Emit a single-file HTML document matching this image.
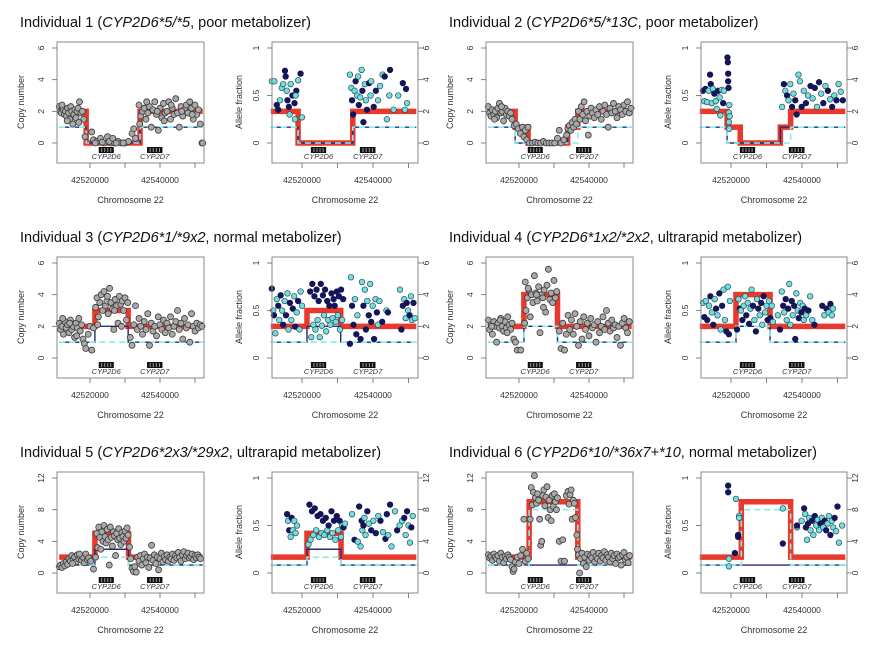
<!DOCTYPE html>
<html><head><meta charset="utf-8">
<style>
html,body{margin:0;padding:0;background:#fff;}
svg{display:block;font-family:"Liberation Sans",sans-serif;}
</style></head>
<body>
<svg id="fig" width="889" height="654" viewBox="0 0 889 654" xmlns="http://www.w3.org/2000/svg"></svg>
<script>
// ---- data (positions in kb relative to chr22:42500000) ----
const titlesPre = ["Individual 1 (","Individual 2 (","Individual 3 (","Individual 4 (","Individual 5 (","Individual 6 ("];
const titlesGeno = ["CYP2D6*5/*5","CYP2D6*5/*13C","CYP2D6*1/*9x2","CYP2D6*1x2/*2x2","CYP2D6*2x3/*29x2","CYP2D6*10/*36x7+*10"];
const titlesPost = [", poor metabolizer)",", poor metabolizer)",", normal metabolizer)",", ultrarapid metabolizer)",", ultrarapid metabolizer)",", normal metabolizer)"];
const cnMax = [6,6,6,6,12,12];
const cnTicks6 = [0,2,4,6];
const cnTicks12 = [0,4,8,12];
const afTicks = [0,0.5,1];
const afTickLabels = ["0","0.5","1"];
const xTicks = [20,30,40,50];
const xTickLabels = {20:"42520000",40:"42540000"};

const redSeg = [
 [[11.2,18.9,2],[18.9,34.3,0],[34.3,52.2,2]],
 [[11.2,18.9,2],[18.9,22.6,1],[22.6,33.9,0],[33.9,36.8,1],[36.8,52.2,2]],
 [[11.2,21.4,2],[21.4,30.9,3],[30.9,52.2,2]],
 [[11.2,21.4,2],[21.4,31,4],[31,52.2,2]],
 [[11.2,21.4,2],[21.4,31,5],[31,52.2,2]],
 [[11.2,22.9,2],[22.9,36.8,9],[36.8,52.2,2]]
];
const navySeg = [
 [[11.2,18.9,1],[18.9,34.3,0],[34.3,52.2,1]],
 [[11.2,18.9,1],[18.9,33.9,0],[33.9,52.2,1]],
 [[11.2,21.4,1],[21.4,30.9,2],[30.9,52.2,1]],
 [[11.2,21.4,1],[21.4,31,2],[31,52.2,1]],
 [[11.2,21.4,1],[21.4,31,3],[31,52.2,1]],
 [[11.2,52.2,1]]
];
const cyanSeg = [
 [[11.2,18.9,1],[18.9,34.3,0],[34.3,52.2,1]],
 [[11.2,18.9,1],[18.9,36.8,0],[36.8,52.2,1]],
 [[11.2,52.2,1]],
 [[11.2,21.4,1],[21.4,31,2],[31,52.2,1]],
 [[11.2,21.4,1],[21.4,31,2],[31,52.2,1]],
 [[11.2,22.9,1],[22.9,36.8,8],[36.8,52.2,1]]
];

const cn1 = [11.2,2.3,11.5,2.0,11.8,1.9,12.1,2.2,12.4,2.1,12.7,1.8,13.0,2.0,13.3,1.7,13.6,2.2,13.9,1.9,14.2,1.5,14.5,2.3,14.8,2.0,15.1,1.2,15.4,1.8,15.7,2.1,16.0,1.6,16.3,2.0,16.6,2.2,17.0,2.6,17.4,1.9,17.8,2.0,18.2,1.5,18.6,0.4,12.0,2.4,13.5,1.4,16.8,1.3,
 20.5,0.7,21,0.2,22,0.1,23,0.3,24,0.0,25,0.4,26,0.0,27,0.0,28,0.1,29,0.0,30,0.0,31,0.1,32,0.6,32.5,0.9,33,0.3,21.5,0,23.5,0.05,25.5,0.1,26.5,0.3,27.5,0,29.5,0,
 34,2.4,34.5,1.7,35,2.0,35.5,2.2,36,1.5,36.5,1.9,37,2.3,37.5,1.0,38,2.1,38.5,2.6,39,1.8,39.5,0.8,40,2.2,40.5,1.6,41,2.5,41.5,1.9,42,2.0,42.5,2.6,43,1.5,43.5,2.2,44,1.8,44.5,2.8,45,1.9,45.5,1.0,46,2.3,46.5,1.7,47,2.1,47.5,2.4,48,1.9,48.5,2.6,49,2.2,49.5,1.5,50,2.4,50.5,1.8,51,2.1,51.5,1.2,52,0,52.2,0,34.2,1.2,36.2,2.6,39.2,2.0,41.2,1.4,43.2,2.4,46.2,2.0,49.2,1.8];
const cn2 = [11.2,2.3,11.6,1.9,12.0,1.7,12.4,2.1,12.8,1.8,13.2,2.0,13.6,1.6,14.0,2.2,14.4,2.5,14.8,1.9,15.2,2.0,15.6,1.4,16.0,2.2,16.4,1.8,16.8,2.0,17.2,1.7,17.6,1.9,18.0,1.5,18.6,1.1,19.2,1.2,19.8,0.9,20.4,0.6,21.0,1.0,21.4,0.4,21.8,0.8,22.2,0.2,22.6,1.0,13.0,1.5,15.0,2.3,
 23,0,23.8,0,24.6,0.05,25.4,0,26.2,0,27.0,0.1,27.8,0,28.6,0,29.4,0,30.2,0,31.0,0.3,31.5,0.8,32.0,0,32.8,0.2,33.6,0.5,
 34.0,0.9,34.4,1.1,34.8,0.8,35.2,1.3,35.6,1.0,36.0,1.5,36.4,1.2,37.0,2.0,37.4,1.5,37.8,2.3,38.2,1.8,38.6,2.6,39.0,1.4,39.4,2.0,39.8,0.5,40.2,1.7,40.6,2.2,41,1.9,41.5,1.6,42,2.1,42.5,1.8,43,2.3,43.5,1.5,44,2.0,44.5,2.4,45,1.8,45.5,1.0,46,2.2,46.5,1.9,47,2.5,47.5,2.0,48,1.6,48.5,2.3,49,2.1,49.5,1.8,50,2.4,50.5,2.0,51,2.6,51.5,1.9,52,2.2];
const cn3 = [11.2,2.2,11.6,1.8,12.0,2.0,12.4,1.5,12.8,2.3,13.2,1.9,13.6,2.1,14.0,1.6,14.4,2.4,14.8,1.8,15.2,2.0,15.6,1.3,16.0,2.2,16.4,1.9,16.8,2.5,17.2,1.7,17.6,2.1,18.0,1.2,18.4,0.9,18.8,0.6,19.5,1.5,20.0,2.0,20.5,0.5,21.0,1.9,12.2,2.5,14.2,2.2,16.2,1.4,
 21.6,3.2,22.0,3.8,22.4,2.6,22.8,3.5,23.2,4.0,23.6,3.0,24.0,4.2,24.4,3.3,24.8,3.6,25.2,2.8,25.6,4.4,26.0,3.5,26.4,3.1,26.8,1.8,27.2,3.7,27.6,3.3,28.0,2.2,28.4,3.9,28.8,3.4,29.2,3.6,29.6,3.0,30.0,3.8,30.4,2.4,30.8,3.5,22.2,2.1,25.0,3.9,27.0,3.0,29.0,2.0,
 31.5,1.3,32.0,0.8,32.5,2.1,33.0,3.3,33.5,1.8,34,2.5,34.5,2.0,35,1.5,35.5,2.3,36,1.8,36.5,2.8,37,0.8,37.5,2.2,38,1.7,38.5,2.0,39,1.4,39.5,2.6,40,2.1,40.5,1.8,41,2.4,41.5,1.6,42,2.2,42.5,1.9,43,2.6,43.5,1.5,44,2.0,44.5,2.3,45,3.0,45.5,1.8,46,2.2,46.5,1.2,47,2.5,47.5,1.9,48,2.1,48.5,1.0,49,2.8,49.5,2.0,50,1.7,50.5,2.2,51,1.9,51.5,2.1,52,2.0];
const cn4 = [11.2,2.4,11.6,1.8,12.0,2.1,12.4,1.5,12.8,2.3,13.2,2.0,13.6,1.0,14.0,2.2,14.4,1.9,14.8,2.5,15.2,2.0,15.6,1.7,16.0,2.3,16.4,1.9,16.8,2.6,17.2,2.1,17.6,1.8,18.0,2.2,18.5,1.2,19.0,1.0,19.5,0.5,20.5,0.5,12.2,2.0,14.6,2.4,16.6,1.6,
 21.6,2.2,21.8,4.8,22.0,3.0,22.4,3.8,22.8,4.3,23.2,2.6,23.6,4.0,24.0,3.5,24.4,5.2,24.8,4.1,25.2,3.6,25.6,4.5,26.0,1.6,26.4,4.0,26.8,3.8,27.2,4.3,27.6,2.9,28.0,4.6,28.4,5.6,28.8,3.7,29.2,4.1,29.6,3.5,30.0,4.9,30.4,3.8,30.8,4.2,22.6,4.4,25.0,4.0,27.0,3.2,
 31.5,1.7,32,0.6,32.5,2.2,33,0.5,33.5,1.5,34,2.7,34.5,1.8,35,2.4,35.5,1.5,36,2.8,36.5,2.0,37,0.8,37.5,2.3,38,1.2,38.5,2.6,39,1.8,39.5,2.2,40,1.4,40.5,2.5,41,1.9,41.5,2.1,42,1.0,42.5,2.3,43,1.6,43.5,2.0,44,2.6,44.5,1.8,45,3.0,45.5,2.2,46,1.7,46.5,2.4,47,1.9,47.5,2.1,48,1.3,48.5,2.0,49,0.8,49.5,2.2,50,2.5,50.5,1.9,51,1.6,51.5,2.3];
const cn5 = [11.2,0.8,11.6,1.0,12.0,0.7,12.4,1.2,12.8,0.9,13.2,1.4,13.6,1.1,14.0,1.8,14.4,1.5,14.8,2.2,15.2,1.7,15.6,2.0,16.0,1.4,16.4,2.3,16.8,1.8,17.2,2.1,17.6,1.6,18.0,2.0,18.4,1.3,18.8,2.4,19.2,1.7,19.6,1.9,20.2,1.5,21.0,0.5,15.0,1.2,17.0,2.4,
 21.6,2.0,21.9,5.0,22.2,3.2,22.5,5.8,22.8,4.5,23.1,3.0,23.4,5.2,23.7,4.0,24.0,6.0,24.3,4.6,24.6,3.8,24.9,5.5,25.2,4.2,25.5,1.0,25.8,5.8,26.1,4.5,26.4,3.4,26.7,5.2,27.0,4.7,27.3,2.2,27.6,5.0,27.9,4.2,28.2,5.6,28.5,4.4,28.8,3.6,29.1,5.1,29.4,4.6,29.7,4.0,30.0,5.3,30.3,4.4,30.6,5.7,30.9,4.8,
 31.3,3.3,31.6,1.8,32.0,0.6,32.4,0.2,32.8,0.8,33.2,0.1,33.6,2.0,34,1.5,34.4,2.2,34.8,1.0,35.2,1.8,35.6,2.4,36,1.3,36.4,2.0,36.8,0.7,37.2,1.9,37.6,3.5,38,1.6,38.4,2.3,38.8,1.2,39.2,2.0,39.6,0.4,40,1.8,40.4,2.5,40.8,1.4,41.2,2.1,41.6,1.7,42,2.3,42.4,1.5,42.8,2.0,43.2,1.8,43.6,2.4,44,1.6,44.4,2.2,44.8,1.9,45.2,2.6,45.6,2.0,46,1.5,46.4,2.3,46.8,2.7,47.2,1.8,47.6,2.2,48,2.5,48.4,1.9,48.8,2.1,49.2,2.4,49.6,1.7,50,2.2,50.4,1.9,50.8,2.3,51.2,2.0,51.6,1.8];
const cn6 = [11.2,2.3,11.6,1.9,12.0,2.1,12.4,1.6,12.8,2.4,13.2,2.0,13.6,1.8,14.0,2.2,14.4,1.5,14.8,2.5,15.2,2.0,15.6,1.3,16.0,2.1,16.4,1.8,16.8,2.3,17.2,2.0,17.6,1.7,18.0,0.8,18.3,0.2,18.6,0.5,19.0,1.4,19.5,2.0,20.0,1.2,20.5,2.2,21.0,3.0,21.4,6.8,21.8,1.5,22.2,2.5,22.6,1.8,
 23.2,6.8,23.5,10.8,23.8,8.6,24.1,10.2,24.4,12.3,24.7,9.5,25.0,8.8,25.3,10.0,25.6,9.2,25.9,6.8,26.2,3.5,26.5,4.0,26.8,9.8,27.1,10.5,27.4,8.5,27.7,9.6,28.0,10.9,28.3,7.0,28.6,9.2,28.9,8.0,29.2,6.6,29.5,9.8,29.8,8.4,30.1,10.0,30.4,9.0,30.7,8.0,31.0,9.5,31.5,4.0,32.0,1.5,32.5,4.2,33.0,1.5,33.5,9.8,34.0,10.3,34.3,8.7,34.6,9.9,34.9,10.5,35.2,6.8,35.5,9.2,35.8,8.8,36.1,7.0,36.5,4.8,36.7,3.0,
 37.0,2.3,37.3,0.0,37.6,1.8,38.0,2.5,38.4,1.2,38.8,2.0,39.2,0.8,39.6,2.4,40.0,1.6,40.4,2.2,40.8,1.9,41.2,2.6,41.6,1.4,42.0,2.1,42.4,1.8,42.8,2.5,43.2,1.5,43.6,2.2,44.0,1.9,44.4,2.7,44.8,1.6,45.2,2.3,45.6,2.0,46.0,1.4,46.4,2.5,46.8,1.8,47.2,2.2,47.6,1.2,48.0,2.4,48.4,1.9,48.8,2.1,49.2,1.0,49.6,2.3,50.0,2.6,50.4,1.7,50.8,2.0,51.2,1.3,51.6,2.2];

// allele fraction: x, value, kind (0 = navy, 1 = cyan)
const af1 = [11.5,.65,1,12.2,.65,1,13.3,.35,0,13.8,.45,1,14.3,.58,1,14.7,.62,1,15.2,.76,0,15.4,.70,0,15.7,.55,1,16.3,.38,0,16.5,.30,1,16.8,.62,1,17.3,.50,0,17.9,.42,0,18.0,.25,1,18.4,.55,0,18.9,.66,1,19.6,.73,0,20.0,.27,1,12.9,.40,0,15.9,.45,0,18.2,.5,1,
 33.5,.72,1,33.9,.58,1,34.1,.45,0,34.4,.30,0,34.8,.55,1,35.1,.65,0,35.5,.50,1,35.8,.70,1,36.0,.40,0,36.4,.48,1,36.8,.77,1,37.0,.55,0,37.3,.22,0,37.7,.62,1,38.0,.45,1,38.3,.35,0,38.9,.63,0,39.3,.50,1,39.5,.65,1,40.2,.38,0,40.8,.55,0,41.4,.45,1,42.0,.60,1,42.7,.72,1,43.3,.70,0,43.9,.25,1,44.6,.50,1,44.8,.77,0,45.8,.35,1,47.1,.50,1,48.4,.63,0,49.0,.35,1,49.3,.57,0,49.6,.42,1];
const af2 = [12.1,.55,0,12.5,.44,1,12.8,.57,0,13.3,.43,1,13.7,.55,1,14.1,.72,0,14.3,.62,0,14.6,.42,1,14.9,.57,1,15.3,.52,0,15.7,.44,1,16.0,.36,1,16.4,.55,0,16.8,.48,1,17.0,.29,1,17.4,.56,1,17.8,.42,0,18.0,.55,1,19.0,.90,0,19.1,.85,0,19.2,.73,0,19.2,.65,0,19.3,.58,0,19.4,.32,1,19.4,.22,1,19.5,.15,1,19.5,.40,1,19.6,.28,1,
 34.4,.38,1,34.9,.62,0,35.3,.55,1,35.8,.50,0,36.2,.45,1,36.7,.62,1,37.2,.38,0,37.6,.52,1,38.1,.45,0,38.5,.30,0,39.0,.72,1,39.4,.65,1,39.9,.38,0,40.5,.55,1,41.1,.42,0,41.7,.50,1,42.4,.60,0,43.0,.47,1,43.6,.58,0,44.2,.38,1,44.8,.64,0,45.4,.52,1,46.0,.42,0,46.6,.60,1,47.3,.55,0,47.9,.46,1,48.5,.38,0,49.1,.50,1,49.7,.45,0,50.3,.62,1,50.9,.54,1,51.5,.45,0];
const af3 = [11.5,.73,0,11.9,.5,1,12.1,.45,0,12.5,.26,1,12.9,.62,1,13.3,.55,0,13.6,.40,1,14.0,.66,0,14.4,.50,1,14.7,.35,0,15.1,.60,1,15.5,.45,0,15.9,.68,1,16.2,.30,1,16.6,.58,0,17.0,.40,1,17.4,.52,0,17.8,.65,1,18.1,.33,0,18.5,.48,1,18.9,.60,0,19.3,.30,1,19.6,.70,1,20.0,.55,1,
 22.3,.70,0,22.6,.22,1,22.9,.78,0,23.2,.35,1,23.5,.65,0,23.8,.30,1,24.1,.72,0,24.4,.40,1,24.7,.60,0,25.0,.22,1,25.3,.78,0,25.6,.34,1,25.9,.66,0,26.2,.45,1,26.5,.72,0,26.8,.28,1,27.1,.60,0,27.4,.40,1,27.7,.55,0,28.0,.35,1,28.3,.68,0,28.6,.42,1,28.9,.62,0,29.2,.55,0,29.5,.38,1,29.8,.70,0,30.1,.45,1,30.4,.65,0,30.7,.30,1,31.0,.72,0,31.3,.40,1,31.6,.62,0,
 33.5,.15,0,33.8,.85,1,34.1,.55,0,34.5,.35,0,34.9,.62,1,35.3,.25,0,35.6,.45,1,36.5,.20,0,36.9,.80,1,37.3,.55,0,37.7,.72,1,38.0,.30,0,38.4,.60,1,38.8,.45,0,39.2,.78,1,39.5,.38,0,39.9,.55,1,40.3,.20,0,40.7,.62,1,41.1,.48,0,41.4,.35,1,41.8,.60,1,42.6,.38,0,43.8,.50,1,44.2,.48,0,47.6,.72,1,48.0,.30,0,48.4,.55,0,48.8,.62,1,49.2,.42,1,49.5,.58,0,49.9,.50,1,50.3,.45,0,50.7,.65,1,51.0,.40,1,51.4,.58,0,51.8,.42,1];
const af4 = [12.1,.58,1,12.5,.43,0,12.9,.60,1,13.3,.40,0,13.8,.55,1,14.2,.65,0,14.6,.48,1,15.0,.35,0,15.4,.62,1,15.8,.52,0,16.2,.45,1,16.7,.68,0,17.1,.30,1,17.5,.55,0,17.9,.72,1,18.3,.40,1,18.7,.28,0,19.1,.75,1,19.4,.25,0,19.7,.60,1,
 21.7,.30,0,22.1,.62,1,22.5,.52,0,22.8,.50,1,23.2,.40,0,23.6,.55,1,24.0,.65,1,24.3,.45,0,24.7,.58,1,25.1,.36,0,25.5,.52,1,25.8,.72,1,26.2,.55,0,26.6,.40,1,27.0,.28,0,27.3,.62,1,27.7,.52,0,28.1,.45,1,28.5,.58,0,28.8,.35,1,29.2,.65,0,29.6,.48,1,30.0,.55,1,30.3,.40,0,30.7,.60,1,31.1,.42,0,31.5,.55,1,31.8,.38,1,
 33.2,.45,1,33.8,.30,0,34.3,.70,1,34.7,.55,0,35.0,.48,1,35.4,.62,0,35.7,.40,1,36.1,.52,0,36.4,.78,1,36.7,.35,1,37.1,.60,0,37.4,.45,1,37.8,.55,0,38.1,.20,0,38.4,.68,1,38.8,.50,1,39.1,.42,0,39.5,.58,1,39.8,.48,0,40.2,.55,1,40.5,.40,1,40.8,.52,0,41.2,.45,1,41.8,.50,0,42.3,.65,1,42.9,.40,1,43.5,.35,0,45.7,.55,0,46.3,.45,1,46.9,.52,0,47.5,.48,1,48.0,.57,0,48.4,.45,1,48.7,.52,1];
const af5 = [15.8,.62,0,16.1,.55,1,16.4,.45,0,16.8,.38,1,17.1,.58,0,17.4,.45,1,17.8,.55,1,18.2,.42,1,18.6,.50,1,
 21.8,.30,1,22.1,.72,0,22.4,.35,1,22.8,.65,0,23.2,.40,1,23.6,.68,0,24.0,.45,1,24.4,.60,0,24.8,.38,1,25.2,.62,0,25.5,.42,1,25.9,.55,0,26.3,.40,1,26.7,.58,0,27.1,.45,1,27.5,.50,0,27.9,.38,1,28.3,.65,0,28.6,.42,1,29.0,.55,0,29.4,.35,1,29.8,.60,0,30.2,.45,1,30.6,.55,0,31.0,.38,1,31.3,.50,1,31.7,.48,0,32.1,.52,1,
 34.1,.62,1,34.8,.35,0,35.7,.33,1,36.1,.70,0,36.5,.28,1,36.8,.55,0,37.0,.45,1,37.3,.50,0,37.6,.58,1,37.9,.40,1,38.4,.65,0,38.8,.52,1,39.5,.45,0,40.1,.55,1,40.8,.42,0,41.5,.60,1,42.1,.55,0,42.8,.43,1,43.5,.36,0,43.9,.62,0,44.3,.40,1,44.8,.72,0,45.2,.28,1,46.2,.65,1,46.8,.45,0,47.5,.50,1,48.2,.55,1,48.8,.58,0,49.2,.40,1,49.6,.65,0,50.0,.50,1,50.4,.32,1,50.8,.48,0,51.2,.60,1];
const af6 = [19.2,.92,0,19.2,.85,0,19.4,.15,1,19.4,.07,1,21.4,.78,1,21.1,.21,0,22.3,.60,1,22.3,.58,1,22.0,.40,0,22.0,.38,0,34.6,.68,1,34.6,.31,0,
 38.6,.48,1,38.6,.50,0,39.9,.55,1,40.6,.68,0,40.9,.62,1,41.1,.48,0,41.4,.35,1,41.7,.52,0,42.0,.58,1,42.4,.45,1,42.8,.55,0,43.2,.40,1,43.6,.60,0,44.0,.50,1,44.4,.56,1,44.8,.45,1,45.2,.52,0,45.6,.58,1,46.0,.48,1,46.4,.55,0,46.8,.45,0,47.2,.52,1,47.6,.60,1,48.0,.40,0,48.4,.55,1,48.8,.48,1,49.2,.58,0,49.6,.44,1,50.0,.70,0,50.4,.32,1,51.3,.50,1];
const cnData = [cn1,cn2,cn3,cn4,cn5,cn6];
const afData = [af1,af2,af3,af4,af5,af6];
const geneNames = ["CYP2D6","CYP2D7"];
const geneStart = [22.5,36.3];
const geneEnd = [26.8,40.7];

// ---- drawing ----
const NS = "http://www.w3.org/2000/svg";
const svg = document.getElementById("fig");
function mk(tag, attrs, parent){
  const e = document.createElementNS(NS, tag);
  for (const k in attrs) e.setAttribute(k, attrs[k]);
  (parent||svg).appendChild(e);
  return e;
}
function stepPath(segs, xs, ys){
  let d = "";
  segs.forEach((s,i)=>{
    const x0 = xs(s[0]), x1 = xs(s[1]), y = ys(s[2]);
    d += (i===0 ? "M"+x0+","+y : "L"+x0+","+y) + " L"+x1+","+y+" ";
  });
  return d;
}

for (let i=0;i<6;i++){
  const ox = (i%2)*429, oy = Math.floor(i/2)*215;
  const g = mk("g",{});
  
  

  const t = mk("text",{x:ox+20,y:oy+27,"font-size":"14.5","fill":"#111"},g);
  
  
  t.appendChild(document.createTextNode(titlesPre[i]));
  const ts = mk("tspan",{"font-style":"italic"},t); ts.textContent = titlesGeno[i];
  const tp = mk("tspan",{},t); tp.textContent = titlesPost[i];

  const ymax = cnMax[i];
  const yTicks = ymax===6 ? cnTicks6 : cnTicks12;
  const yCN = v => oy + 143 - v*(95/ymax);
  const yAF = v => oy + 143 - v*95;

  for (let p=0;p<2;p++){
    const bx0 = ox + (p===0 ? 57 : 272), bx1 = ox + (p===0 ? 204 : 418);
    const xs = p===0 ? (k => ox + 90 + (k-20)*3.5) : (k => ox + 302 + (k-20)*3.55);
    const pg = mk("g",{},g);
    
    

    const red = mk("path",{d:stepPath(redSeg[i],xs,yCN),fill:"none",stroke:"#e8392c","stroke-width":"5.5","stroke-linejoin":"miter"},pg);
    
    
    const nv = mk("path",{d:stepPath(navySeg[i],xs,yCN),fill:"none",stroke:"#2a2a7a","stroke-width":"1.4"},pg);
    
    
    const cy = mk("path",{d:stepPath(cyanSeg[i],xs,yCN),fill:"none",stroke:"#86ecec","stroke-width":"1.6","stroke-dasharray":"6,4"},pg);
    
    

    if (p===0){
      const d = cnData[i];
      for (let j=0;j<d.length;j+=2){
        const c = mk("circle",{cx:xs(d[j]),cy:yCN(d[j+1]),r:3,fill:"#a9a9a9",stroke:"#3a3a3a","stroke-width":"0.8"},pg);
        
        
      }
    } else {
      const d = afData[i];
      for (let j=0;j<d.length;j+=3){
        const c = mk("circle",{cx:xs(d[j]),cy:yAF(d[j+1]),r:2.8,fill:d[j+2]?"#72dede":"#141458",stroke:d[j+2]?"#2a4a55":"#141458","stroke-width":"0.7"},pg);
        
        
      }
    }

    for (let k=0;k<2;k++){
      const gx0 = xs(geneStart[k]), gx1 = xs(geneEnd[k]);
      const gb = mk("rect",{x:gx0,y:oy+147,width:gx1-gx0,height:6,fill:"#111"},pg);
      
      
      for (let q=1;q<5;q++){
        mk("rect",{x:gx0+(gx1-gx0)*q/5-0.4,y:oy+148,width:0.8,height:4,fill:"#bbb"},pg);
      }
      const gl = mk("text",{x:(gx0+gx1)/2,y:oy+159,"font-size":"7.5","font-style":"italic","text-anchor":"middle",fill:"#333"},pg);
      
      
      gl.textContent = geneNames[k];
    }

    const bx = mk("rect",{x:bx0,y:oy+42,width:bx1-bx0,height:121,fill:"none",stroke:"#8a8a8a","stroke-width":"1"},pg);
    
    

    xTicks.forEach(k=>{
      const x = xs(k);
      mk("line",{x1:x,x2:x,y1:oy+163,y2:oy+168,stroke:"#666","stroke-width":"0.8"},pg);
      if (xTickLabels[k]){
        const tl = mk("text",{x:x,y:oy+183,"font-size":"8.5","text-anchor":"middle",fill:"#333"},pg);
        
        
        tl.textContent = xTickLabels[k];
      }
    });
    const xt = mk("text",{x:(bx0+bx1)/2,y:oy+203,"font-size":"9","text-anchor":"middle",fill:"#333"},pg);
    
    
    xt.textContent = "Chromosome 22";

    if (p===0){
      yTicks.forEach(v=>{
        const y = yCN(v);
        mk("line",{x1:bx0-5,x2:bx0,y1:y,y2:y,stroke:"#666","stroke-width":"0.8"},pg);
        const tl = mk("text",{x:bx0-13,y:y,"font-size":"8.5","text-anchor":"middle",fill:"#333",transform:"rotate(-90 "+(bx0-13)+" "+y+")"},pg);
        
        
        tl.textContent = String(v);
      });
      const yt = mk("text",{x:ox+24,y:oy+102,"font-size":"9","text-anchor":"middle",fill:"#333",transform:"rotate(-90 "+(ox+24)+" "+(oy+102)+")"},pg);
      
      
      yt.textContent = "Copy number";
    } else {
      afTicks.forEach((v,idx)=>{
        const y = yAF(v);
        mk("line",{x1:bx0-5,x2:bx0,y1:y,y2:y,stroke:"#666","stroke-width":"0.8"},pg);
        const tl = mk("text",{x:bx0-13,y:y,"font-size":"8.5","text-anchor":"middle",fill:"#333",transform:"rotate(-90 "+(bx0-13)+" "+y+")"},pg);
        
        
        tl.textContent = afTickLabels[idx];
      });
      yTicks.forEach(v=>{
        const y = yCN(v);
        mk("line",{x1:bx1,x2:bx1+5,y1:y,y2:y,stroke:"#666","stroke-width":"0.8"},pg);
        const tl = mk("text",{x:bx1+11,y:y,"font-size":"8.5","text-anchor":"middle",fill:"#333",transform:"rotate(-90 "+(bx1+11)+" "+y+")"},pg);
        
        
        tl.textContent = String(v);
      });
      const yt = mk("text",{x:bx0-30,y:oy+102,"font-size":"9","text-anchor":"middle",fill:"#333",transform:"rotate(-90 "+(bx0-30)+" "+(oy+102)+")"},pg);
      
      
      yt.textContent = "Allele fraction";
    }
  }
}
</script>
</body></html>
